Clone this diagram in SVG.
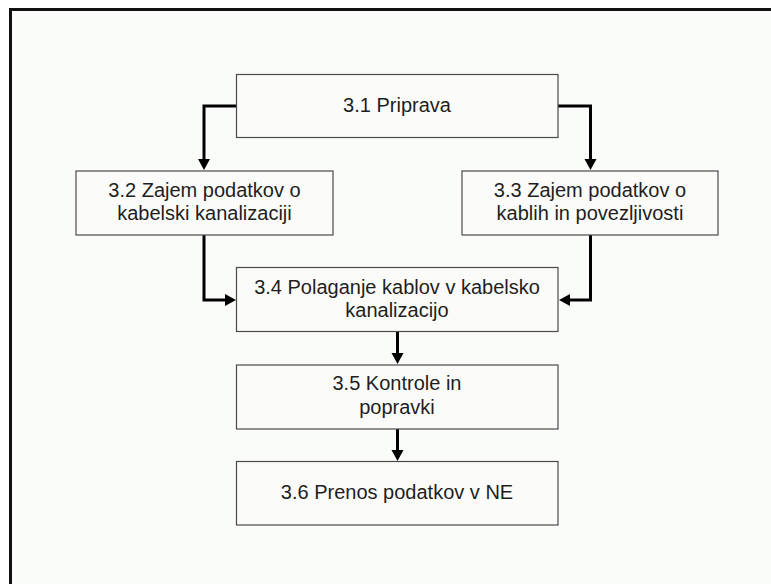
<svg xmlns="http://www.w3.org/2000/svg" width="771" height="584" viewBox="0 0 771 584">
  <style>
    .box { fill: #fbfcfa; stroke: #4a4a4a; stroke-width: 1.2; }
    .label { font-family: "Liberation Sans", Arial, sans-serif; font-size: 20px; fill: #1e1e1e; text-anchor: middle; }
    .wire { fill: none; stroke: #000; stroke-width: 3; marker-end: url(#arrow); }
  </style>
  <defs>
    <marker id="arrow" markerUnits="userSpaceOnUse" markerWidth="14" markerHeight="14" viewBox="0 -7 12 14" refX="1" refY="0" orient="auto">
      <path d="M0,-6 L11,0 L0,6 Z" fill="#000"/>
    </marker>
  </defs>

  <!-- page background and frame -->
  <rect x="0" y="0" width="771" height="584" fill="#ffffff"/>
  <rect x="10" y="10" width="761" height="574" fill="#fafcfa"/>
  <path d="M10.5,584 V9.5 H771" fill="none" stroke="#111" stroke-width="3"/>

  <!-- connectors -->
  <g id="connectors">
    <path class="wire" d="M236,106 H204 V160"/>
    <path class="wire" d="M558,106 H590.5 V160"/>
    <path class="wire" d="M204,235 V300 H226"/>
    <path class="wire" d="M590.5,235 V300 H569"/>
    <path class="wire" d="M397.5,332 V354"/>
    <path class="wire" d="M397.5,429 V451"/>
  </g>

  <g id="n31">
    <rect class="box" x="236.5" y="74.5" width="321.5" height="63"/>
    <text class="label" x="397" y="112">3.1 Priprava</text>
  </g>

  <g id="n32">
    <rect class="box" x="76" y="171" width="257" height="64"/>
    <text class="label" x="204.5" y="197">3.2 Zajem podatkov o</text>
    <text class="label" x="204.5" y="220">kabelski kanalizaciji</text>
  </g>

  <g id="n33">
    <rect class="box" x="462" y="171" width="256" height="64"/>
    <text class="label" x="590" y="197">3.3 Zajem podatkov o</text>
    <text class="label" x="590" y="220">kablih in povezljivosti</text>
  </g>

  <g id="n34">
    <rect class="box" x="236.5" y="267.5" width="321.5" height="64"/>
    <text class="label" x="397" y="293.5">3.4 Polaganje kablov v kabelsko</text>
    <text class="label" x="397" y="317">kanalizacijo</text>
  </g>

  <g id="n35">
    <rect class="box" x="236.5" y="365" width="321.5" height="64"/>
    <text class="label" x="397" y="390">3.5 Kontrole in</text>
    <text class="label" x="397" y="413.5">popravki</text>
  </g>

  <g id="n36">
    <rect class="box" x="236.5" y="461.5" width="321.5" height="63.5"/>
    <text class="label" x="397" y="499">3.6 Prenos podatkov v NE</text>
  </g>
</svg>
